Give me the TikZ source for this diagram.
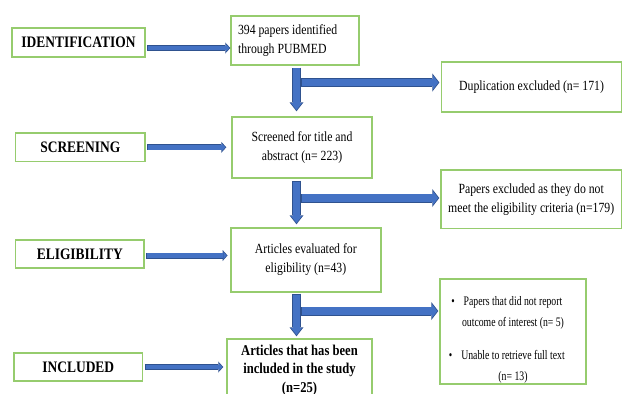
\documentclass[tikz,border=0pt]{standalone}
\usepackage{fontspec}
\setmainfont{Liberation Serif}[FakeStretch=0.84]
\newfontfamily\narrowserif{Liberation Serif}[FakeStretch=0.75]
\usepackage{xcolor}
\definecolor{flowgreen}{RGB}{150, 204, 110}
\definecolor{flowblue}{RGB}{68, 114, 196}
\definecolor{flowedge}{RGB}{47, 82, 143}
\usepackage{tikz}
\usetikzlibrary{arrows.meta}

\tikzset{
  stagebox/.style={draw=flowgreen, line width=1.4pt, inner sep=0pt,
    font=\fontsize{16}{19}\selectfont\bfseries},
  stepbox/.style={draw=flowgreen, line width=1.4pt, inner sep=0pt, align=center,
    font=\fontsize{14}{19}\selectfont},
  thinarrow/.style={draw=flowedge, line width=6pt,
    -{Triangle[length=5pt,width=11pt,line width=0pt]},
    postaction={draw=flowblue, line width=4.4pt, shorten <=0.8pt, shorten >=0.95pt,
      -{Triangle[length=3.35pt,width=7.4pt,line width=0pt]}}},
  trunkarrow/.style={draw=flowedge, line width=9pt,
    -{Triangle[length=9pt,width=14pt,line width=0pt]},
    postaction={draw=flowblue, line width=7.4pt, shorten <=0.8pt, shorten >=1.3pt,
      -{Triangle[length=6.9pt,width=10.7pt,line width=0pt]}}},
  brancharrow/.style={draw=flowedge, line width=9pt,
    -{Triangle[length=7pt,width=18pt,line width=0pt]},
    postaction={draw=flowblue, line width=7.4pt, shorten <=0.8pt, shorten >=1pt,
      -{Triangle[length=5.2pt,width=13.4pt,line width=0pt]}}}
}

\begin{document}
\begin{tikzpicture}[x=1pt, y=-1pt]
  \useasboundingbox (0,0) rectangle (622,394);
  \clip (0,0) rectangle (622,394);

  % stage labels
  \node[stagebox, minimum width=133pt, minimum height=29pt] (identification) at (78.5,42.5) {IDENTIFICATION};
  \node[stagebox, minimum width=129.5pt, minimum height=28.5pt] (screening) at (80.3,147.3) {SCREENING};
  \node[stagebox, minimum width=128.5pt, minimum height=28pt] (eligibility) at (79.8,254) {ELIGIBILITY};
  \node[stagebox, minimum width=128.5pt, minimum height=28pt] (inclusion) at (78.3,367) {INCLUDED};

  % main column
  \node[
    stepbox,
    minimum width=128pt,
    minimum height=49pt,
    text width=114pt,
    align=flush left
  ] (found) at (295,40.3) {394 papers identified\\through PUBMED};
  \node[stepbox, minimum width=140pt, minimum height=61pt] (screened) at (302,147.5) {Screened for title and\\abstract (n= 223)};
  \node[stepbox, minimum width=150pt, minimum height=64pt] (assessed) at (305.8,260) {Articles evaluated for\\eligibility (n=43)};
  \node[
    stepbox,
    minimum width=145pt,
    minimum height=62pt,
    font=\fontsize{15}{18.5}\selectfont\bfseries
  ] (included) at (299.5,370) {Articles that has been\\included in the study\\(n=25)};

  % exclusions
  \node[stepbox, minimum width=180pt, minimum height=50pt] (duplicates) at (531.6,86.8) {Duplication excluded (n= 171)};
  \node[stepbox, minimum width=180.5pt, minimum height=58.5pt] (ineligible) at (531.2,199.2) {Papers excluded as they do not\\meet the eligibility criteria (n=179)};
  \node[
    stepbox,
    minimum width=146pt,
    minimum height=105pt,
    font=\narrowserif\fontsize{13}{21}\selectfont
  ] (nooutcome) at (513,331.5) {\raisebox{-7.5pt}[\height][\depth]{\begin{tabular}{@{}c@{}}
      \llap{\textbullet\hspace{9pt}}Papers that did not report\\
      outcome of interest (n= 5)\\[12pt]
      \llap{\textbullet\hspace{9pt}}Unable to retrieve full text\\
      (n= 13)
    \end{tabular}}};

  % stage arrows
  \draw[thinarrow] ([xshift=1.5pt,yshift=-5.5pt]identification.east) -- ([yshift=-5.5pt]identification.east -| found.west);
  \draw[thinarrow] ([xshift=1.5pt]screening.east) -- ([xshift=-5pt]screening.east -| screened.west);
  \draw[thinarrow] ([xshift=1.5pt,yshift=-1.5pt]eligibility.east) -- ([xshift=-2.5pt,yshift=-1.5pt]eligibility.east -| assessed.west);
  \draw[thinarrow] ([xshift=1.5pt]inclusion.east) -- ([xshift=-3pt]inclusion.east -| included.west);

  % flow down the middle
  \coordinate (spine) at (296.5,0);
  \draw[trunkarrow] ([yshift=-2pt]found.south -| spine) -- ([yshift=5pt]screened.north -| spine);
  \draw[trunkarrow] ([yshift=-2pt]screened.south -| spine) -- ([yshift=3pt]assessed.north -| spine);
  \draw[trunkarrow] ([yshift=-1pt]assessed.south -| spine) -- ([yshift=2pt]included.north -| spine);

  % branches to the exclusions
  \coordinate (fork1) at (301,82.5);
  \coordinate (fork2) at (301,198);
  \coordinate (fork3) at (301,311);
  \draw[brancharrow] (fork1) -- ([xshift=-1.5pt]fork1 -| duplicates.west);
  \draw[brancharrow] (fork2) -- ([xshift=-1pt]fork2 -| ineligible.west);
  \draw[brancharrow] (fork3) -- ([xshift=-1pt]fork3 -| nooutcome.west);
\end{tikzpicture}
\end{document}
